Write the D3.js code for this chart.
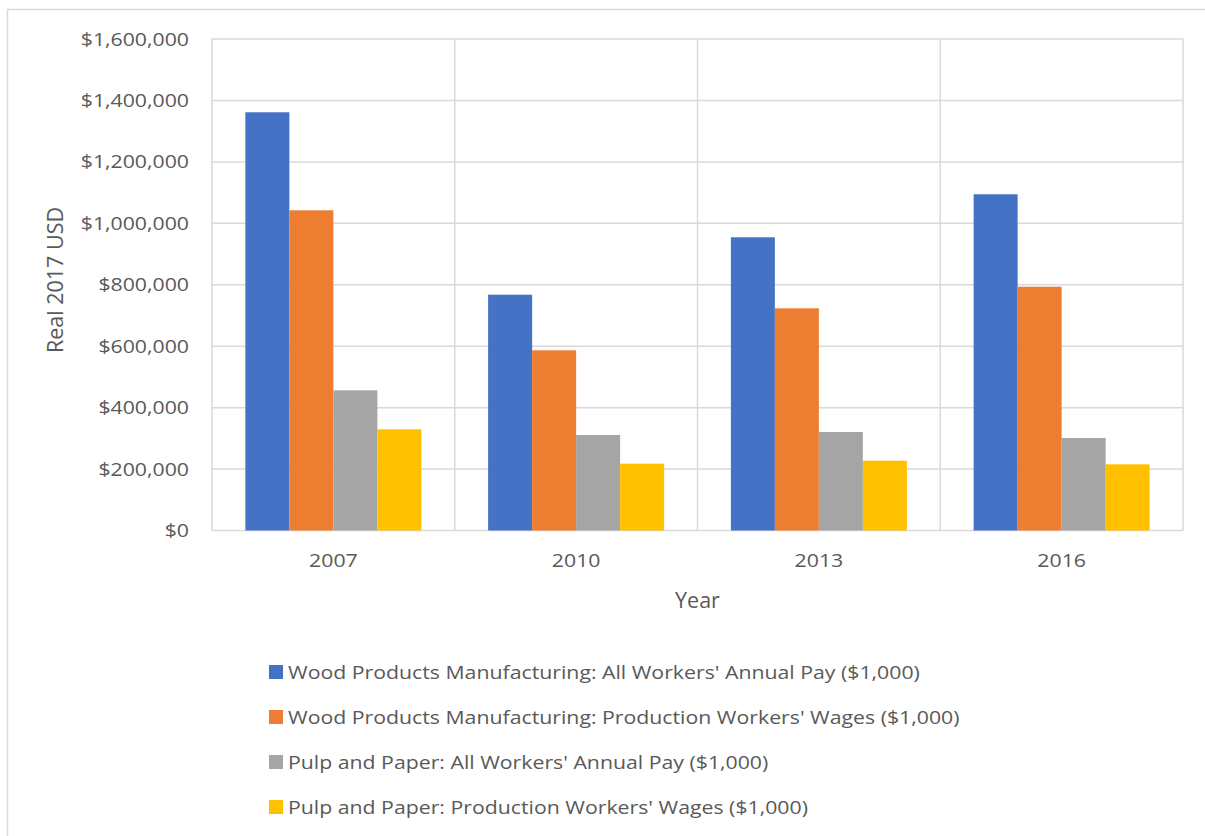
<!DOCTYPE html>
<html>
<head>
<meta charset="utf-8">
<script src="https://cdn.jsdelivr.net/npm/d3@7"></script>
<style>
  html, body { margin: 0; padding: 0; background: #fff; }
  svg { display: block; }
  text { font-family: "Open Sans", sans-serif; fill: #595959; }
</style>
</head>
<body>
<svg id="chart" width="1205" height="836"></svg>
<script>
const years = ["2007", "2010", "2013", "2016"];
const seriesNames = [
  "Wood Products Manufacturing: All Workers' Annual Pay ($1,000)",
  "Wood Products Manufacturing: Production Workers' Wages ($1,000)",
  "Pulp and Paper: All Workers' Annual Pay ($1,000)",
  "Pulp and Paper: Production Workers' Wages ($1,000)"
];
const woodAllPay = [1361400, 767600, 954500, 1094500];
const woodProdWages = [1042400, 586600, 723300, 793600];
const pulpAllPay = [456400, 310900, 320700, 301100];
const pulpProdWages = [329400, 217500, 227200, 215500];
const seriesValues = [woodAllPay, woodProdWages, pulpAllPay, pulpProdWages];
const colors = ["#4472C4", "#ED7D31", "#A5A5A5", "#FFC000"];
const yTicks = [0, 200000, 400000, 600000, 800000, 1000000, 1200000, 1400000, 1600000];

const svg = d3.select("#chart");
const W = 1205, H = 836;
const m = { left: 212, right: 1183, top: 39, bottom: 530.5 };
const FONT = "'Open Sans', sans-serif";
const SX = 1.12; // horizontal text stretch to mimic the original typeface width

// outer chart border
svg.append("rect").attr("x", 7.5).attr("y", 9.5).attr("width", W + 10).attr("height", H + 10)
  .attr("fill", "none").attr("stroke", "#d9d9d9").attr("stroke-width", 1.5);

const x0 = d3.scaleBand().domain(years).range([m.left, m.right]).paddingInner(0.275).paddingOuter(0.1375);
const x1 = d3.scaleBand().domain(d3.range(seriesNames.length)).range([0, x0.bandwidth()]);
const y = d3.scaleLinear().domain([0, 1600000]).range([m.bottom, m.top]);

// horizontal gridlines
svg.append("g").selectAll("line").data(yTicks).join("line")
  .attr("x1", m.left).attr("x2", m.right)
  .attr("y1", d => y(d)).attr("y2", d => y(d))
  .attr("stroke", "#d9d9d9").attr("stroke-width", 1.5);

// vertical category boundaries
const step = x0.step();
const bounds = [m.left].concat(years.map((d, i) => m.left + step * (i + 1)));
svg.append("g").selectAll("line").data(bounds).join("line")
  .attr("x1", d => d).attr("x2", d => d)
  .attr("y1", m.top).attr("y2", m.bottom)
  .attr("stroke", "#d9d9d9").attr("stroke-width", 1.5);

// bars
const groups = svg.append("g").selectAll("g").data(years).join("g")
  .attr("transform", d => `translate(${x0(d)},0)`);
groups.selectAll("rect").data((d, i) => seriesValues.map((s, k) => ({ k, v: s[i] }))).join("rect")
  .attr("x", d => x1(d.k)).attr("width", x1.bandwidth())
  .attr("y", d => y(d.v)).attr("height", d => y(0) - y(d.v))
  .attr("fill", d => colors[d.k]);

// y axis labels
const fmt = d3.format("$,");
const yPad = 23;
const yAxis = d3.axisLeft(y).tickValues(yTicks).tickFormat(d => fmt(d)).tickSize(0).tickPadding(yPad);
const ya = svg.append("g").attr("transform", `translate(${m.left},0)`).call(yAxis);
ya.select(".domain").remove();
ya.selectAll("text").attr("font-size", 19).style("font-family", FONT).attr("fill", "#595959")
  .attr("x", -yPad / SX).attr("transform", `scale(${SX},1)`);

// x axis labels
const xAxis = d3.axisBottom(x0).tickSize(0).tickPadding(23);
const xa = svg.append("g").attr("transform", `translate(0,${m.bottom})`).call(xAxis);
xa.select(".domain").remove();
xa.selectAll("text").attr("font-size", 19).style("font-family", FONT).attr("fill", "#595959")
  .attr("transform", `scale(${SX},1)`);

// axis titles
svg.append("text").attr("x", (m.left + m.right) / 2).attr("y", 608)
  .attr("text-anchor", "middle").attr("font-size", 21.5).text("Year");
svg.append("text").attr("transform", "translate(63,280) rotate(-90)")
  .attr("text-anchor", "middle").attr("font-size", 21.5).text("Real 2017 USD");

// legend
const lg = svg.append("g").selectAll("g").data(seriesNames).join("g")
  .attr("transform", (d, i) => `translate(269,${672 + i * 45})`);
lg.append("rect").attr("x", 0).attr("y", -7).attr("width", 14).attr("height", 14)
  .attr("fill", (d, i) => colors[i]);
lg.append("text").attr("transform", `translate(19,0) scale(${SX},1)`).attr("dy", "0.35em")
  .attr("font-size", 19).text(d => d);
</script>
</body>
</html>
